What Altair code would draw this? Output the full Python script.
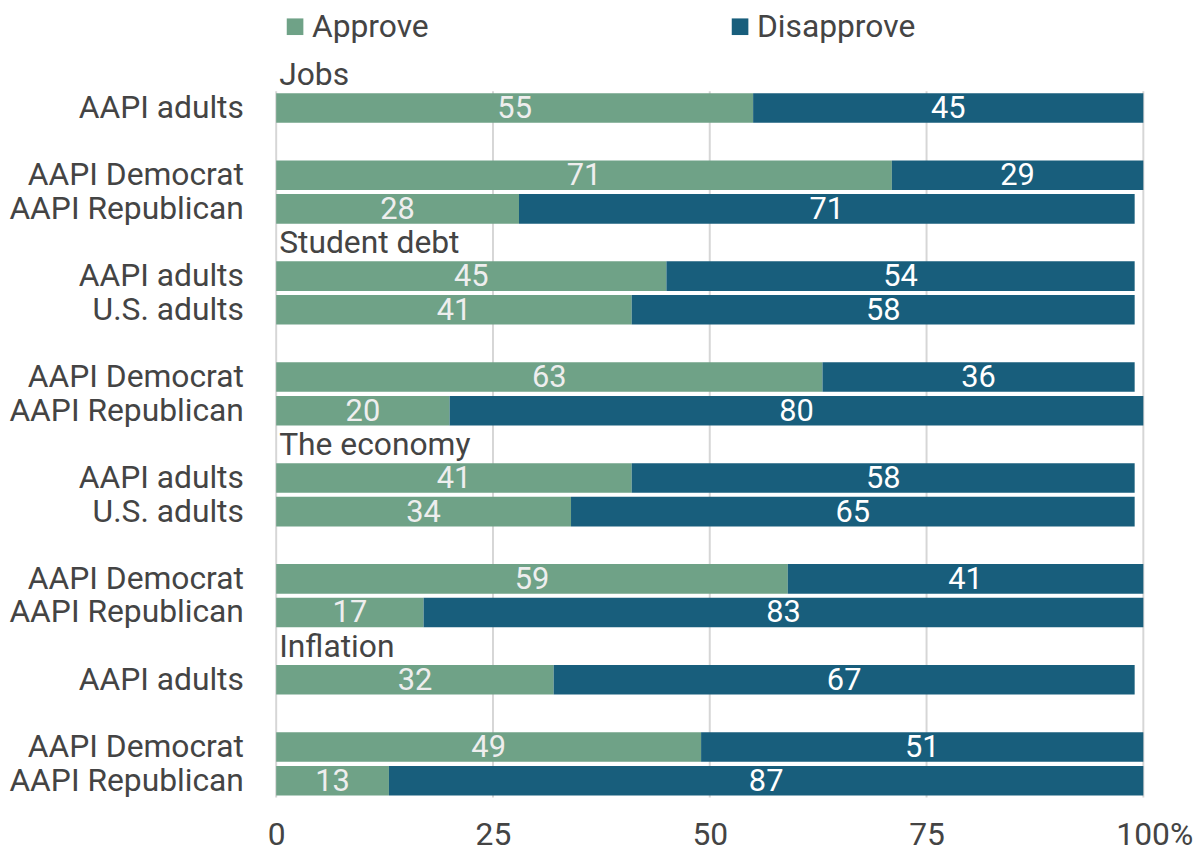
import altair as alt
import pandas as pd

row_labels = ["", "AAPI adults", "", "AAPI Democrat", "AAPI Republican",
              "", "AAPI adults", "U.S. adults", "", "AAPI Democrat", "AAPI Republican",
              "", "AAPI adults", "U.S. adults", "", "AAPI Democrat", "AAPI Republican",
              "", "AAPI adults", "", "AAPI Democrat", "AAPI Republican"]
group_titles = {0: "Jobs", 5: "Student debt", 11: "The economy", 17: "Inflation"}
approve = [None, 55, None, 71, 28, None, 45, 41, None, 63, 20,
           None, 41, 34, None, 59, 17, None, 32, None, 49, 13]
disapprove = [None, 45, None, 29, 71, None, 54, 58, None, 36, 80,
              None, 58, 65, None, 41, 83, None, 67, None, 51, 87]
ticks = [0, 25, 50, 75, 100]
series = ["Approve", "Disapprove"]
colors = ["#6fa287", "#185e7c"]

W, H = 873, 745
n = len(row_labels)
step = H / n

keys = [f"{i:02d}|{lab}" for i, lab in enumerate(row_labels)]

recs = []
for i, k in enumerate(keys):
    if approve[i] is not None:
        recs.append({"key": k, "series": "Approve", "order": 0, "value": approve[i]})
        recs.append({"key": k, "series": "Disapprove", "order": 1, "value": disapprove[i]})
df = pd.DataFrame(recs)
titles_df = pd.DataFrame([{"key": keys[i], "title": t} for i, t in group_titles.items()])
ticks_df = pd.DataFrame({"t": ticks})

FONT = "Roboto"
FS = 32
TXT = "#444444"
yscale = alt.Scale(domain=keys, paddingInner=0.12, paddingOuter=0.06)
xscale = alt.Scale(domain=[0, 100], nice=False)

xaxis = alt.Axis(values=ticks, grid=False, domain=False, ticks=False, title=None,
                 labelFontSize=FS, labelFont=FONT, labelColor=TXT,
                 labelPadding=22, labelFlush=False,
                 labelExpr="datum.value == 100 ? '100%' : datum.label",
                 labelOffset={"expr": "datum.value == 100 ? 11 : 0"})

base = alt.Chart(df).transform_stack(
    stack="value", groupby=["key"], as_=["x0", "x1"], sort=[alt.SortField("order")]
).transform_calculate(mid="(datum.x0 + datum.x1) / 2")

grid = alt.Chart(ticks_df).mark_rule(color="#d6d6d6", strokeWidth=2).encode(
    x=alt.X("t:Q", scale=xscale, axis=xaxis),
    y=alt.value(step),
    y2=alt.value(H),
)

bars = base.mark_bar(size=step * 0.88).encode(
    x=alt.X("x0:Q", scale=xscale, title=None, axis=xaxis),
    x2="x1:Q",
    y=alt.Y("key:N", scale=yscale, sort=keys, title=None,
            axis=alt.Axis(domain=False, ticks=False, grid=False, labelFontSize=FS, labelFont=FONT,
                          labelColor=TXT, labelPadding=33, labelLimit=400,
                          labelExpr="slice(datum.label, indexof(datum.label, '|') + 1)")),
    color=alt.Color("series:N", scale=alt.Scale(domain=series, range=colors),
                    legend=alt.Legend(title=None, orient="none", legendX=3, legendY=-47,
                                      direction="horizontal", symbolType="square",
                                      symbolSize=280, symbolStrokeWidth=0,
                                      labelFontSize=FS, labelFont=FONT, labelColor=TXT,
                                      labelOffset=1, columnPadding=297, labelLimit=300)),
)

labels = base.mark_text(font=FONT, fontSize=FS - 1, baseline="middle", align="center", dy=1).encode(
    x=alt.X("mid:Q", scale=xscale, axis=xaxis),
    y=alt.Y("key:N", scale=yscale, sort=keys),
    text=alt.Text("value:Q"),
    color=alt.Color("series:N", scale=alt.Scale(domain=series, range=["#eeeeee", "#ffffff"]),
                    legend=None),
)

titles = alt.Chart(titles_df).mark_text(font=FONT, fontSize=FS, align="left", baseline="middle",
                                        color=TXT, dx=3, dy=1).encode(
    x=alt.value(0),
    y=alt.Y("key:N", scale=yscale, sort=keys),
    text="title:N",
)

chart = alt.layer(grid, bars, labels, titles).resolve_scale(color="independent").properties(
    width=W, height=H,
    padding={"left": 0, "top": 0, "right": 0, "bottom": 0},
).configure(font=FONT).configure_view(strokeWidth=0, stroke="transparent")

chart.save("out.html", embed_options={"renderer": "svg", "actions": False})
